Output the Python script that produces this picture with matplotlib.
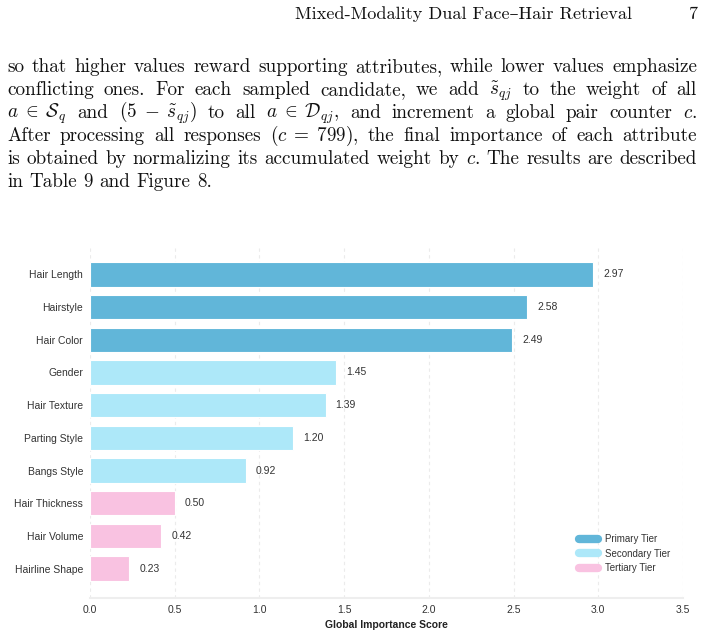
import numpy as np
import matplotlib
matplotlib.use("Agg")
import matplotlib.pyplot as plt
from matplotlib.lines import Line2D

# ---------------- data ----------------
categories = ["Hair Length", "Hairstyle", "Hair Color", "Gender", "Hair Texture",
              "Parting Style", "Bangs Style", "Hair Thickness", "Hair Volume", "Hairline Shape"]
scores = [2.97, 2.58, 2.49, 1.45, 1.39, 1.20, 0.92, 0.50, 0.42, 0.23]
tiers = [0, 0, 0, 1, 1, 1, 1, 2, 2, 2]
tier_names = ["Primary Tier", "Secondary Tier", "Tertiary Tier"]
tier_colors = ["#61B6D9", "#ADE8F9", "#F9C2E1"]
x_ticks = [0.0, 0.5, 1.0, 1.5, 2.0, 2.5, 3.0, 3.5]
x_label = "Global Importance Score"

header_title = "Mixed-Modality Dual Face\u2013Hair Retrieval"
page_number = "7"
body_lines = [
    "so that higher values reward supporting attributes, while lower values emphasize",
    r"conflicting ones. For each sampled candidate, we add $\tilde{s}_{qj}$ to the weight of all",
    r"$a\;\in\;\mathcal{S}_q$ and $(5\;-\;\tilde{s}_{qj})$ to all $a\;\in\;\mathcal{D}_{qj}$, and increment a global pair counter $c$.",
    r"After processing all responses ($c\;=\;799$), the final importance of each attribute",
    r"is obtained by normalizing its accumulated weight by $c$. The results are described",
    "in Table 9 and Figure 8.",
]

W, H = 704, 633
plt.rcParams["mathtext.fontset"] = "cm"
fig = plt.figure(figsize=(W / 100, H / 100), dpi=100)
fig.patch.set_facecolor("white")

serif = ["cmr10", "DejaVu Serif"]
body_size = 13.8


def fy(y):
    return 1 - y / H


def fx(x):
    return x / W


# header
fig.text(fx(632), fy(19), header_title, family=serif, fontsize=13.1,
         ha="right", va="baseline", color="#111111")
fig.text(fx(697), fy(19), page_number, family=serif, fontsize=13.1,
         ha="right", va="baseline", color="#111111")

# justified body text
renderer = fig.canvas.get_renderer()
left, right = 7, 697
baselines = [72, 95, 118, 141, 164, 187]


def split_tokens(line):
    tokens, cur, inmath = [], "", False
    for ch in line:
        if ch == "$":
            inmath = not inmath
            cur += ch
        elif ch == " " and not inmath:
            if cur:
                tokens.append(cur)
            cur = ""
        else:
            cur += ch
    if cur:
        tokens.append(cur)
    return tokens


space_t = fig.text(0, 0, "a a", family=serif, fontsize=body_size)
aa_t = fig.text(0, 0, "aa", family=serif, fontsize=body_size)
space_w = (space_t.get_window_extent(renderer).width - aa_t.get_window_extent(renderer).width)
space_t.remove()
aa_t.remove()

for i, (line, yb) in enumerate(zip(body_lines, baselines)):
    toks = split_tokens(line)
    objs = [fig.text(0, fy(yb), t, family=serif, fontsize=body_size,
                     ha="left", va="baseline", color="#111111") for t in toks]
    widths = [o.get_window_extent(renderer).width for o in objs]
    last = (i == len(body_lines) - 1)
    if last or len(objs) == 1:
        gap = space_w
    else:
        gap = (right - left - sum(widths)) / (len(objs) - 1)
    x = left
    for o, w in zip(objs, widths):
        o.set_x(fx(x))
        x += w + gap

# ---------------- chart ----------------
sans = ["Liberation Sans", "DejaVu Sans"]
ax = fig.add_axes([fx(90), fy(598), 593 / W, 353 / H])
ypos = np.arange(len(categories))
colors = [tier_colors[t] for t in tiers]
ax.barh(ypos, scores, height=0.75, color=colors, edgecolor="white", linewidth=0.8, zorder=2)
ax.set_xlim(0, 3.5)
ax.set_ylim(len(categories) - 0.1, -0.9)
ax.set_xticks(x_ticks)
ax.set_xticklabels([f"{v:.1f}" for v in x_ticks], family=sans, fontsize=7.5, color="#333333")
ax.set_yticks(ypos)
ax.set_yticklabels(categories, family=sans, fontsize=7.5, color="#333333")
ax.tick_params(axis="both", length=0, pad=5)
ax.xaxis.grid(True, linestyle=(0, (3, 3)), color="#ebebeb", linewidth=0.8, zorder=0)
ax.set_axisbelow(True)
for s in ["top", "right", "left"]:
    ax.spines[s].set_visible(False)
ax.spines["bottom"].set_color("#eeeeee")
ax.spines["bottom"].set_linewidth(1.5)
ax.set_xlabel(x_label, family=sans, fontsize=7.5, fontweight="bold", color="#222222", labelpad=4)

for yv, v in zip(ypos, scores):
    ax.text(v + 0.06, yv, f"{v:.2f}", va="center", ha="left", family=sans,
            fontsize=7.5, color="#333333")

handles = [Line2D([0], [0], color=c, lw=6, solid_capstyle="round") for c in tier_colors]
leg = ax.legend(handles, tier_names, loc="lower right", bbox_to_anchor=(0.985, 0.06),
                frameon=False, prop={"family": sans, "size": 7}, handlelength=2.0,
                labelspacing=0.45, handletextpad=0.7, borderaxespad=0)
for t in leg.get_texts():
    t.set_color("#333333")

fig.savefig("out.png", dpi=100, facecolor="white")
